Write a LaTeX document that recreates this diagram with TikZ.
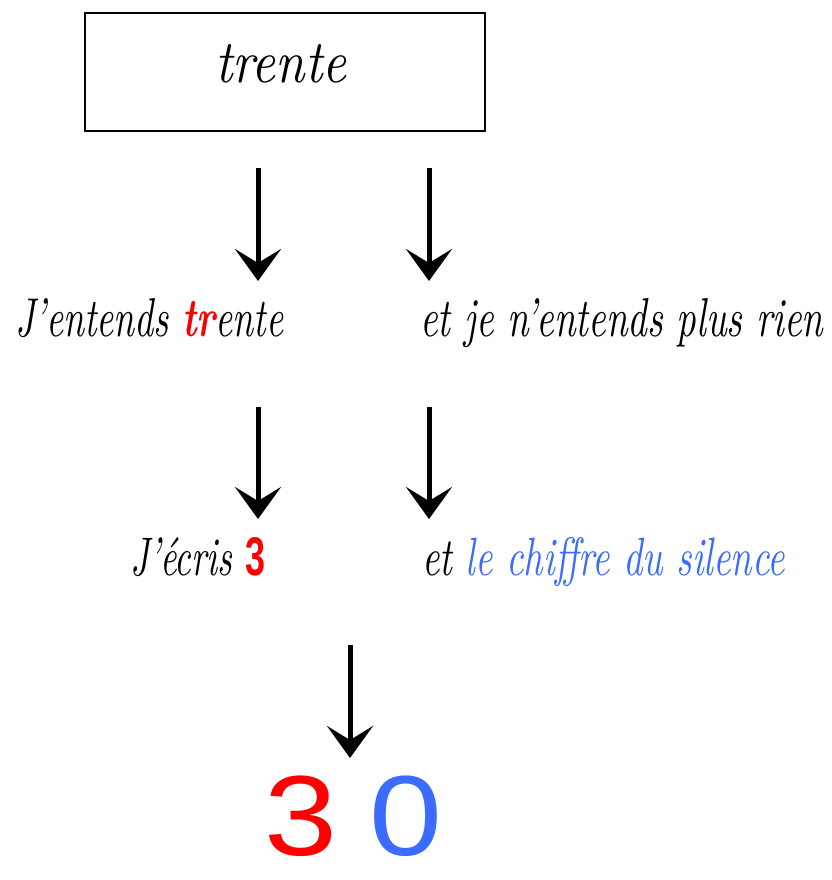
\documentclass[tikz,border=0pt]{standalone}
\usepackage{fontspec}
\setsansfont{Liberation Sans}
\usetikzlibrary{arrows.meta}
\definecolor{myred}{RGB}{255,0,0}
\definecolor{myblue}{RGB}{59,108,255}
\newcommand{\fitwh}[3]{\resizebox{#1}{#2}{#3}}
\begin{document}
\begin{tikzpicture}[x=1pt,y=-1pt,
  bigarrow/.style={line width=5pt,-{Stealth[length=32pt,width=46pt,inset=14pt]}},
  txt/.style={inner sep=0pt, anchor=base west},
  digit/.style={inner sep=0pt, anchor=base west, font=\fontsize{114}{114}\selectfont\sffamily}]
\useasboundingbox (0,0) rectangle (831,880);
\node[draw, line width=1.8pt, minimum width=400pt, minimum height=118pt, anchor=north west, inner sep=0pt] (box) at (84,12) {};
\node[txt] (t0) at (215,83) {\fitwh{131pt}{38pt}{\itshape trente}};
% row 1
\node[txt] (l1) at (15,336) {\fitwh{268pt}{38pt}{\itshape J’entends \textcolor{myred}{\bfseries tr}ente}};
\node[txt] (r1) at (420,336) {\fitwh{403pt}{38pt}{\itshape et je n’entends plus rien}};
% row 2
\node[txt] (l2) at (130,575) {\fitwh{135pt}{38pt}{\itshape J’écris \textcolor{myred}{\upshape\sffamily\bfseries 3}}};
\node[txt] (r2) at (422,575) {\fitwh{363pt}{38pt}{\itshape et \textcolor{myblue}{le chiffre du silence}}};
% result
\node[digit, text=myred] (d3) at (264,855) {\scalebox{1.15}[1]{3}};
\node[digit, text=myblue] (d0) at (369,855) {\scalebox{1.15}[1]{0}};
% arrows
\coordinate (a1s) at (258,168); \coordinate (a1e) at (258,281);
\coordinate (a2s) at (429,168); \coordinate (a2e) at (429,281);
\coordinate (a3s) at (258,407); \coordinate (a3e) at (258,519);
\coordinate (a4s) at (429,407); \coordinate (a4e) at (429,519);
\coordinate (a5s) at (350,645); \coordinate (a5e) at (350,758);
\draw[bigarrow] (a1s) -- (a1e);
\draw[bigarrow] (a2s) -- (a2e);
\draw[bigarrow] (a3s) -- (a3e);
\draw[bigarrow] (a4s) -- (a4e);
\draw[bigarrow] (a5s) -- (a5e);
\end{tikzpicture}
\end{document}
